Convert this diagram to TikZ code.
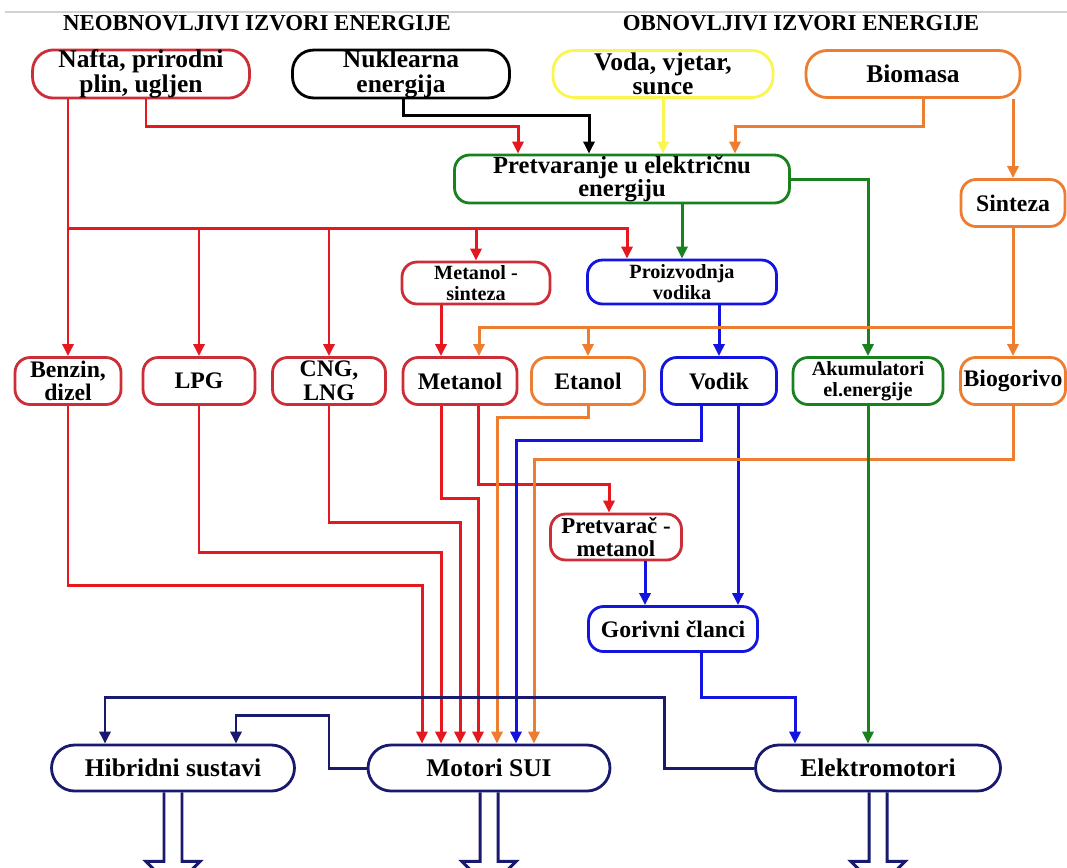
\documentclass[tikz,border=0pt]{standalone}
\usepackage{fontspec}
\setmainfont{Liberation Serif}
\usetikzlibrary{arrows.meta}
\definecolor{cred}{RGB}{228,24,30}
\definecolor{credbox}{RGB}{205,45,55}
\definecolor{corange}{RGB}{237,125,49}
\definecolor{cgreen}{RGB}{25,130,30}
\definecolor{cyellow}{RGB}{250,245,80}
\definecolor{cblue}{RGB}{20,20,225}
\definecolor{cnavy}{RGB}{25,25,110}
\tikzset{>={Triangle[length=2.4mm,width=2.2mm]},
  box/.style={draw, line width=1.6pt, rounded corners=0.3cm, inner sep=0pt, align=center,
    minimum height=0.94cm, font=\fontsize{13.5}{13.5}\selectfont\bfseries},
  src/.style={box, rounded corners=0.42cm, font=\fontsize{14.5}{14}\selectfont\bfseries},
  small/.style={box, font=\fontsize{11.5}{12}\selectfont\bfseries},
  pill/.style={box, draw=cnavy, rounded corners=0.46cm, minimum height=0.92cm,
    font=\fontsize{14.5}{14}\selectfont\bfseries},
  wire/.style={line width=1.7pt},
  title/.style={font=\fontsize{13}{13}\selectfont\bfseries}}
\begin{document}
\begin{tikzpicture}[x=0.02cm, y=-0.02cm]

  \clip (0,0) rectangle (1067,867);
  \draw[gray!35, line width=1pt] (5,12) -- (1067,12);

  \node[title] (neo) at (257,23) {NEOBNOVLJIVI IZVORI ENERGIJE};
  \node[title] (obn) at (801,23) {OBNOVLJIVI IZVORI ENERGIJE};

  \node[src, draw=credbox, minimum width=4.34cm] (Naf) at (141,74) {Nafta, prirodni\\plin, ugljen};
  \node[src, draw=black, minimum width=4.34cm] (Nuk) at (401,74) {Nuklearna\\energija};
  \node[src, draw=cyellow, minimum width=4.4cm] (Vod) at (663,74) {Voda, vjetar,\\sunce};
  \node[src, draw=corange, minimum width=4.28cm] (Bio) at (913,74) {Biomasa};
  \node[box, draw=cgreen, minimum width=6.7cm, minimum height=0.96cm,
    font=\fontsize{14}{13.5}\selectfont\bfseries] (Pre) at (622,179) {Pretvaranje u električnu\\energiju};
  \node[box, draw=corange, minimum width=2.08cm] (Sin) at (1013,203) {Sinteza};
  \node[small, draw=credbox, minimum width=2.96cm, minimum height=0.84cm] (MSi) at (476,283) {Metanol -\\sinteza};
  \node[small, draw=cblue, minimum width=3.78cm, minimum height=0.88cm] (PVo) at (682,282) {Proizvodnja\\vodika};

  \node[box, draw=credbox, minimum width=2.12cm] (Ben) at (68,381) {Benzin,\\dizel};
  \node[box, draw=credbox, minimum width=2.24cm] (LPG) at (199,381) {LPG};
  \node[box, draw=credbox, minimum width=2.26cm] (CNG) at (329,381) {CNG,\\LNG};
  \node[box, draw=credbox, minimum width=2.28cm] (Met) at (460,381) {Metanol};
  \node[box, draw=corange, minimum width=2.26cm] (Eta) at (588,381) {Etanol};
  \node[box, draw=cblue, minimum width=2.3cm] (Vdk) at (719,381) {Vodik};
  \node[small, draw=cgreen, minimum width=3.0cm] (Aku) at (868,381) {Akumulatori\\el.energije};
  \node[box, draw=corange, minimum width=2.1cm] (Bgv) at (1013,381) {Biogorivo};

  \node[box, draw=credbox, minimum width=2.62cm, minimum height=0.92cm,
    font=\fontsize{13}{13}\selectfont\bfseries] (PMe) at (616,537) {Pretvarač -\\metanol};
  \node[box, draw=cblue, minimum width=3.38cm, minimum height=0.9cm] (Gor) at (673,629) {Gorivni članci};

  \node[pill, minimum width=4.86cm] (Hib) at (173,768) {Hibridni sustavi};
  \node[pill, minimum width=4.84cm] (Mot) at (489,768) {Motori SUI};
  \node[pill, minimum width=4.9cm] (Ele) at (878,768) {Elektromotori};

  \coordinate (rb) at (Ben.north |- 0,228);
  \coordinate (ob) at (Sin.south |- 0,327);

  \draw[wire, cred, ->] (Naf.south -| 146,0) -- (146,126) -| (Pre.north -| 518,0);
  \draw[wire, black, ->] (Nuk.south -| 403,0) -- (403,115) -| (Pre.north -| 589,0);
  \draw[wire, cyellow, ->] (Vod.south) -- (Vod.south |- Pre.north);
  \draw[wire, corange, ->] (Bio.south -| 923,0) -- (923,126) -| (Pre.north -| 735,0);
  \draw[wire, corange, ->] (Bio.south -| Sin.north) -- (Sin.north);
  \draw[wire, cgreen, ->] (Pre.east) -| (Aku.north);
  \draw[wire, cgreen, ->] (Pre.south -| PVo.north) -- (PVo.north);

  \draw[wire, cred, ->] (Naf.south -| Ben.north) -- (Ben.north);
  \draw[wire, cred, ->] (rb) -| (PVo.north -| 627,0);
  \draw[wire, cred, ->] (LPG.north |- rb) -- (LPG.north);
  \draw[wire, cred, ->] (CNG.north |- rb) -- (CNG.north);
  \draw[wire, cred, ->] (MSi.north |- rb) -- (MSi.north);
  \draw[wire, cred, ->] (MSi.south -| 441,0) -- (Met.north -| 441,0);
  \draw[wire, cblue, ->] (PVo.south -| Vdk.north) -- (Vdk.north);

  \draw[wire, corange, ->] (Sin.south) -- (Bgv.north);
  \draw[wire, corange, ->] (ob) -| (Met.north -| 479,0);
  \draw[wire, corange, ->] (Eta.north |- ob) -- (Eta.north);

  \draw[wire, cred, ->] (Ben.south) -- (Ben.south |- 0,585) -| (Mot.north -| 422,0);
  \draw[wire, cred, ->] (LPG.south) -- (LPG.south |- 0,552) -| (Mot.north -| 441,0);
  \draw[wire, cred, ->] (CNG.south) -- (CNG.south |- 0,522) -| (Mot.north -| 460,0);
  \draw[wire, cred, ->] (Met.south -| 441,0) -- (441,498) -| (Mot.north -| 478,0);
  \draw[wire, cred, ->] (Met.south -| 478,0) -- (478,484) -| (PMe.north -| 609,0);
  \draw[wire, corange, ->] (Eta.south) -- (Eta.south |- 0,417) -| (Mot.north -| 497,0);
  \draw[wire, cblue, ->] (Vdk.south -| 701,0) -- (701,440) -| (Mot.north -| 516,0);
  \draw[wire, cblue, ->] (Vdk.south -| 738,0) -- (Gor.north -| 738,0);
  \draw[wire, corange, ->] (Bgv.south) -- (Bgv.south |- 0,459) -| (Mot.north -| 534,0);
  \draw[wire, cblue, ->] (PMe.south -| 645,0) -- (Gor.north -| 645,0);
  \draw[wire, cblue, ->] (Gor.south -| 701,0) -- (701,697) -| (Ele.north -| 795,0);
  \draw[wire, cgreen, ->] (Aku.south) -- (Ele.north -| Aku.south);

  \draw[wire, cnavy, ->] (Ele.west) -| (664,697) -| (Hib.north -| 105,0);
  \draw[wire, cnavy, ->] (Mot.west) -| (329,715) -| (Hib.north -| 236,0);

  \draw[wire, cnavy] ([xshift=-0.18cm]Hib.south) -- ++(0,69) -- ++(-18,0) -- ++(27,27) -- ++(27,-27) -- ++(-18,0) -- ++(0,-69);
  \draw[wire, cnavy] ([xshift=-0.18cm]Mot.south) -- ++(0,69) -- ++(-18,0) -- ++(27,27) -- ++(27,-27) -- ++(-18,0) -- ++(0,-69);
  \draw[wire, cnavy] ([xshift=-0.18cm]Ele.south) -- ++(0,69) -- ++(-18,0) -- ++(27,27) -- ++(27,-27) -- ++(-18,0) -- ++(0,-69);

\end{tikzpicture}
\end{document}
